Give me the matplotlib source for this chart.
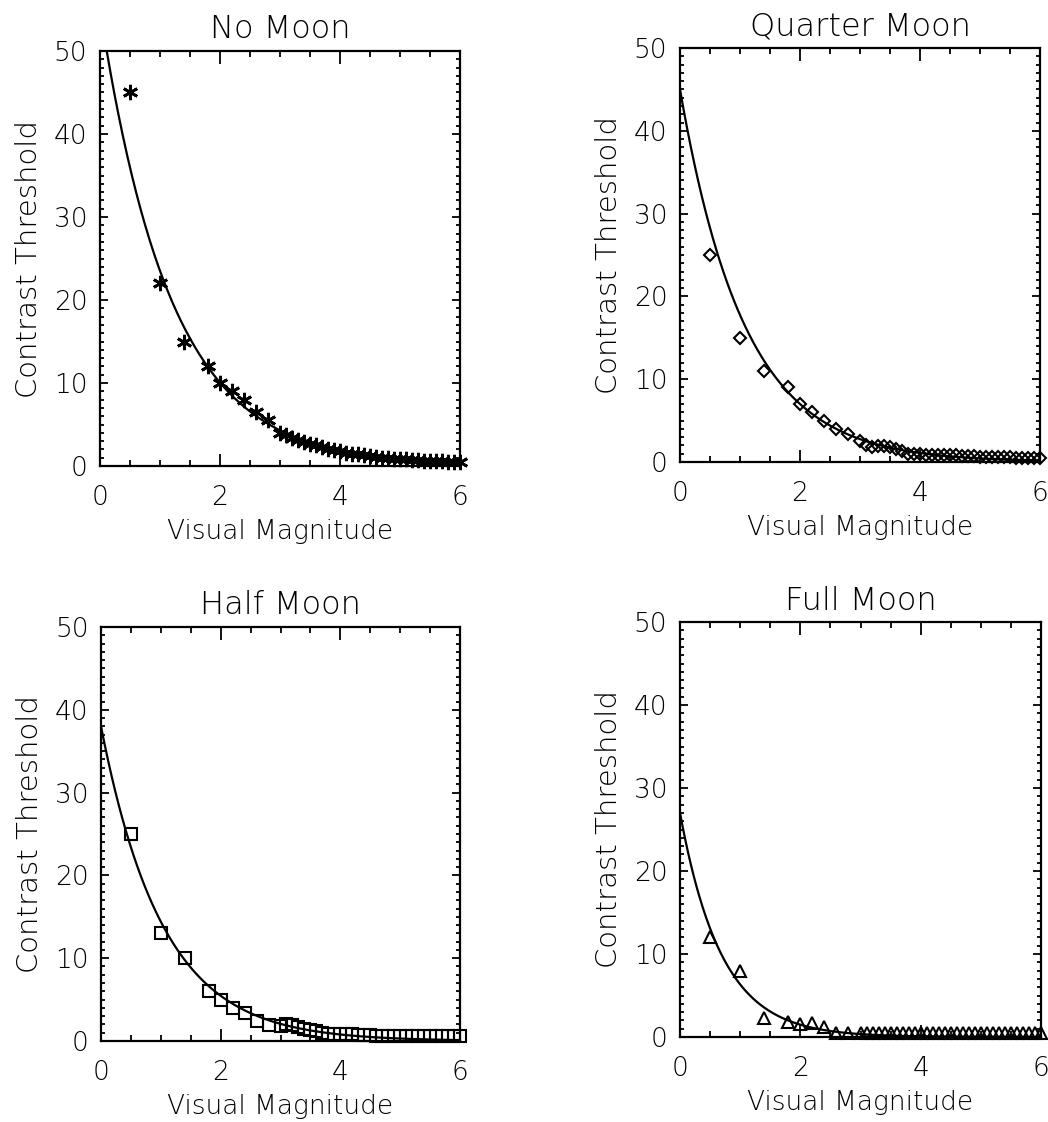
import numpy as np
import matplotlib
matplotlib.use('Agg')
import matplotlib.pyplot as plt
from matplotlib.ticker import MultipleLocator

plt.rcParams['font.family'] = 'DejaVu Sans'
plt.rcParams['font.weight'] = 'light'
plt.rcParams['axes.titleweight'] = 'light'
plt.rcParams['axes.labelweight'] = 'light'

# visual magnitude of the sampled stars (same for all four panels)
magnitude = [0.5, 1.0, 1.4, 1.8, 2.0, 2.2, 2.4, 2.6, 2.8,
             3.0, 3.1, 3.2, 3.3, 3.4, 3.5, 3.6, 3.7, 3.8, 3.9,
             4.0, 4.1, 4.2, 4.3, 4.4, 4.5, 4.6, 4.7, 4.8, 4.9,
             5.0, 5.1, 5.2, 5.3, 5.4, 5.5, 5.6, 5.7, 5.8, 5.9, 6.0]

no_moon = [45, 22, 15, 12, 10, 9, 8, 6.5, 5.5,
           4.0, 3.7, 3.4, 3.1, 2.9, 2.7, 2.5, 2.3, 2.1, 1.9,
           1.75, 1.6, 1.5, 1.4, 1.3, 1.2, 1.1, 1.0, 0.95, 0.9,
           0.85, 0.8, 0.75, 0.7, 0.65, 0.6, 0.6, 0.55, 0.5, 0.5, 0.45]

quarter_moon = [25, 15, 11, 9, 7, 6, 5, 4, 3.4,
                2.5, 2.0, 1.8, 1.9, 1.9, 1.8, 1.6, 1.3, 1.0, 1.0,
                1.0, 0.9, 0.9, 0.9, 0.85, 0.8, 0.8, 0.75, 0.7, 0.7,
                0.65, 0.6, 0.6, 0.6, 0.55, 0.55, 0.5, 0.5, 0.5, 0.5, 0.5]

half_moon = [25, 13, 10, 6, 5, 4, 3.4, 2.4, 1.9,
             1.8, 2.0, 1.9, 1.7, 1.5, 1.3, 1.2, 1.0, 0.9, 0.9,
             0.8, 0.8, 0.8, 0.75, 0.7, 0.7, 0.65, 0.65, 0.6, 0.6,
             0.6, 0.6, 0.6, 0.55, 0.55, 0.55, 0.55, 0.55, 0.55, 0.55, 0.55]

full_moon = [12, 8, 2.3, 1.8, 1.6, 1.7, 1.2, 0.5, 0.5,
             0.5, 0.5, 0.5, 0.5, 0.5, 0.5, 0.5, 0.5, 0.5, 0.5,
             0.5, 0.5, 0.5, 0.5, 0.5, 0.5, 0.5, 0.5, 0.5, 0.5,
             0.5, 0.5, 0.5, 0.5, 0.5, 0.5, 0.5, 0.5, 0.5, 0.5, 0.5]

titles = ['No Moon', 'Quarter Moon', 'Half Moon', 'Full Moon']
# exponential fit drawn as the solid line: amplitude * exp(-rate * m)
fit_amplitude = [55, 45, 38, 27]
fit_rate = [0.85, 0.93, 0.97, 1.45]

series = [no_moon, quarter_moon, half_moon, full_moon]

W, H = 1048, 1122
fig = plt.figure(figsize=(W / 100, H / 100), dpi=100, facecolor='white')

# axes boxes in pixels (left, top, right, bottom)
boxes = [(100, 51, 460, 466), (680, 48, 1040, 462),
         (101, 627, 460, 1041), (680, 622, 1041, 1037)]

markers = [dict(marker=(6, 2, 0), ms=11, mew=2.0, mfc='k'),
           dict(marker='D', ms=6, mew=1.5, mfc='none'),
           dict(marker='s', ms=8, mew=1.5, mfc='none'),
           dict(marker='^', ms=8, mew=1.5, mfc='none')]

mgrid = np.linspace(0, 6, 400)

for i in range(4):
    l, t, r, b = boxes[i]
    ax = fig.add_axes([l / W, 1 - b / H, (r - l) / W, (b - t) / H])

    curve = fit_amplitude[i] * np.exp(-fit_rate[i] * mgrid)
    ax.plot(mgrid, curve, color='k', lw=1.6)
    ax.plot(magnitude, series[i], ls='none', color='k', clip_on=False,
            **markers[i])

    ax.set_xlim(0, 6)
    ax.set_ylim(0, 50)
    ax.xaxis.set_major_locator(MultipleLocator(2))
    ax.xaxis.set_minor_locator(MultipleLocator(0.5))
    ax.yaxis.set_major_locator(MultipleLocator(10))
    ax.yaxis.set_minor_locator(MultipleLocator(1))
    ax.tick_params(which='both', direction='in', top=True, right=True,
                   width=1.3, colors='k', labelsize=19)
    ax.tick_params(axis='x', which='major', length=9, pad=14)
    ax.tick_params(axis='x', which='minor', length=4)
    ax.tick_params(axis='y', which='major', length=6, pad=9)
    ax.tick_params(axis='y', which='minor', length=3)
    for s in ax.spines.values():
        s.set_linewidth(1.6)

    ax.set_title(titles[i], fontsize=23, pad=9)
    ax.set_xlabel('Visual Magnitude', fontsize=19, labelpad=6)
    ax.set_ylabel('Contrast Threshold', fontsize=21, labelpad=8)

fig.savefig('out.png', dpi=100, facecolor='white')
